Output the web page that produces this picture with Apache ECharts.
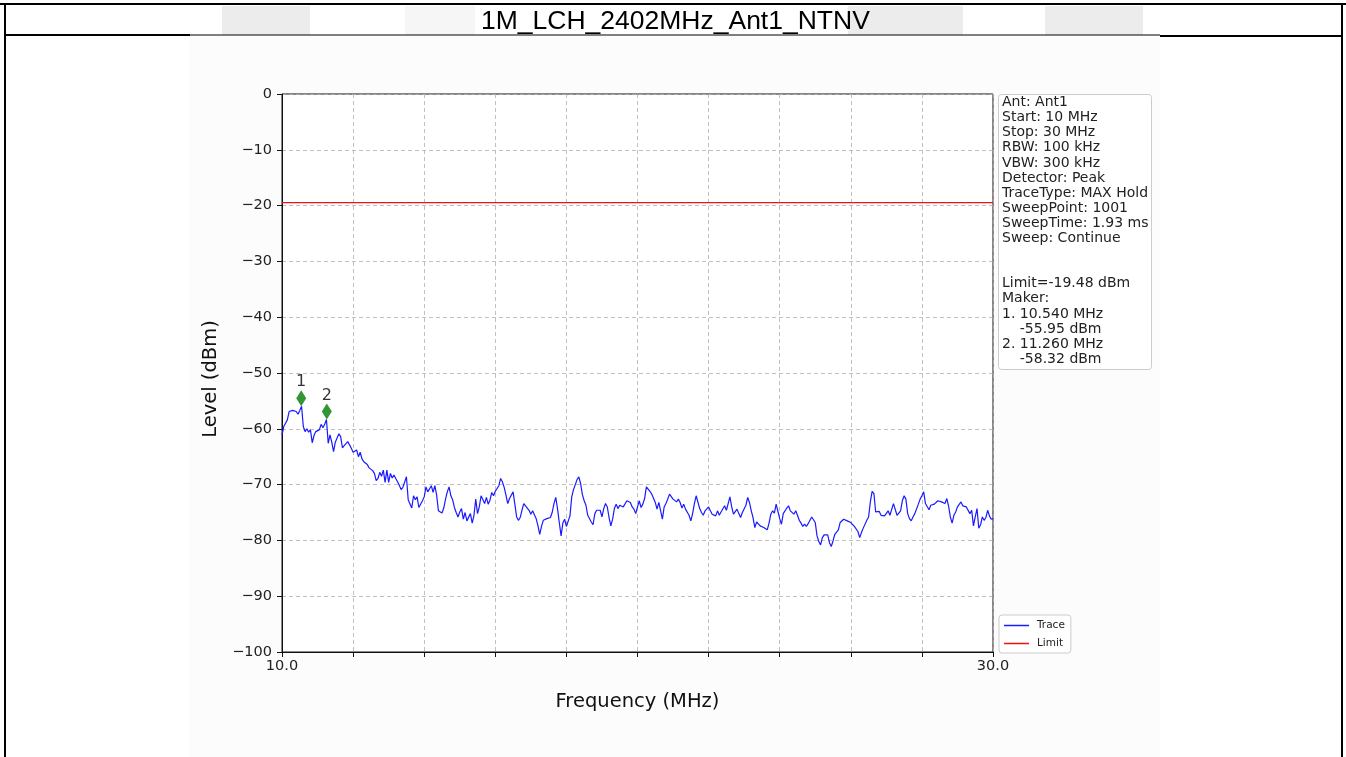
<!DOCTYPE html>
<html>
<head>
<meta charset="utf-8">
<script src="https://cdn.jsdelivr.net/npm/echarts@6/dist/echarts.min.js"></script>
<style>
  html, body { margin: 0; padding: 0; background: #ffffff; }
  #chart { width: 1346px; height: 757px; }
</style>
</head>
<body>
<div id="chart"></div>
<script>
// Sweep settings
const START_MHZ = 10;
const STOP_MHZ = 30;
const STEP_MHZ = 0.05;
const LIMIT_DBM = -19.48;

// Max-hold trace, one level per 0.05 MHz step (dBm)
const levelDbm = [
  -61.1, -59.6, -59.0, -58.4, -56.9, -56.6, -56.7, -57.0, -56.9, -57.4,
  -56.7, -55.95, -59.6, -60.5, -60.0, -60.6, -60.2, -62.5, -61.2, -60.5,
  -60.6, -60.2, -59.2, -59.8, -59.2, -58.32, -62.6, -61.1, -62.4, -64.1,
  -62.4, -62.6, -60.9, -61.4, -63.4, -63.0, -63.2, -62.3, -62.0, -63.5,
  -64.2, -64.4, -63.8, -65.0, -64.2, -65.4, -65.9, -66.1, -66.4, -67.0,
  -67.2, -67.5, -68.0, -69.3, -68.9, -67.8, -68.5, -67.4, -69.6, -67.4,
  -69.6, -68.0, -68.8, -68.3, -68.9, -69.5, -70.1, -70.9, -70.5, -70.8,
  -68.6, -72.7, -73.0, -74.2, -72.0, -72.7, -72.2, -74.1, -74.1, -72.9,
  -72.2, -70.4, -71.3, -71.1, -70.2, -71.4, -70.2, -71.9, -74.7, -74.4,
  -75.1, -74.2, -72.6, -71.3, -70.4, -72.0, -72.7, -74.1, -75.0, -75.8,
  -74.9, -74.3, -76.2, -75.0, -76.5, -76.3, -75.2, -76.9, -75.5, -72.6,
  -75.2, -74.0, -72.0, -72.3, -73.4, -72.3, -73.5, -72.8, -71.4, -72.0,
  -71.2, -71.4, -70.2, -68.9, -69.5, -70.5, -71.9, -73.4, -72.5, -72.5,
  -71.3, -73.5, -75.8, -76.4, -75.9, -74.6, -73.4, -73.8, -74.1, -74.6,
  -75.3, -74.7, -74.7, -76.1, -77.4, -78.9, -77.5, -76.4, -76.1, -76.1,
  -76.1, -75.9, -75.0, -73.4, -72.3, -74.3, -76.8, -79.2, -76.9, -76.2,
  -77.5, -77.7, -75.6, -72.2, -70.9, -70.0, -69.1, -68.6, -69.8, -71.8,
  -72.9, -73.7, -75.5, -75.8, -76.7, -77.2, -75.2, -74.6, -74.3, -74.6,
  -75.8, -74.3, -73.4, -74.0, -75.9, -77.4, -76.2, -74.3, -73.5, -74.3,
  -73.7, -73.8, -74.0, -73.7, -72.9, -72.6, -73.2, -74.0, -74.4, -75.2,
  -74.0, -72.9, -74.1, -73.5, -72.5, -70.4, -70.1, -71.2, -71.7, -72.0,
  -73.2, -74.4, -73.2, -73.1, -76.2, -74.0, -73.4, -72.6, -71.7, -71.9,
  -72.6, -72.6, -73.1, -72.6, -73.2, -74.2, -73.5, -74.4, -74.3, -75.5,
  -76.5, -75.2, -73.4, -72.0, -72.2, -74.3, -75.0, -75.5, -74.7, -74.4,
  -74.0, -74.7, -75.3, -75.2, -75.6, -74.7, -75.5, -74.9, -75.2, -73.8,
  -74.6, -73.4, -72.2, -74.0, -75.3, -75.6, -74.4, -75.2, -75.9, -75.0,
  -75.3, -73.7, -72.3, -73.2, -74.7, -75.9, -77.7, -76.7, -76.4, -77.4,
  -77.2, -77.7, -77.4, -78.1, -76.9, -75.3, -74.7, -75.1, -73.5, -73.5,
  -76.1, -77.1, -75.2, -75.0, -74.2, -73.8, -74.7, -74.4, -75.3, -74.7,
  -75.5, -76.4, -76.9, -77.5, -77.1, -77.5, -77.0, -77.2, -75.8, -76.1,
  -76.8, -79.2, -80.2, -80.8, -79.5, -79.0, -79.0, -79.0, -80.4, -81.1,
  -80.1, -78.9, -79.0, -78.1, -76.8, -77.1, -76.2, -76.5, -76.5, -76.7,
  -76.8, -77.1, -77.5, -77.4, -78.4, -79.5, -78.6, -77.8, -77.8, -76.4,
  -75.8, -73.1, -71.2, -71.6, -74.9, -74.6, -74.8, -75.5, -75.6, -75.6,
  -75.9, -74.7, -75.5, -75.3, -73.4, -73.2, -75.5, -75.5, -74.7, -72.9,
  -72.0, -72.6, -75.2, -76.1, -76.5, -75.8, -75.2, -75.3, -73.5, -72.6,
  -72.0, -71.3, -73.4, -73.7, -74.5, -73.7, -73.5, -73.5, -73.4, -72.9,
  -73.2, -73.1, -72.8, -73.4, -72.5, -73.8, -75.8, -76.9, -75.5, -74.9,
  -74.0, -73.9, -73.1, -73.8, -73.5, -74.0, -74.1, -75.2, -74.6, -77.4,
  -75.8, -74.3, -77.8, -77.2, -75.8, -76.4, -75.9, -74.6, -75.6, -76.2,
  -76.1
];

// Frequency grid of the sweep
const freqMHz = levelDbm.map((_, i) => +(START_MHZ + i * STEP_MHZ).toFixed(2));

// Peak markers
const markerNames = ['1', '2'];
const markerFreqMHz = [10.540, 11.260];
const markerLevelDbm = [-55.95, -58.32];

// Measurement settings shown beside the plot
const settingLines = [
  'Ant: Ant1',
  'Start: 10 MHz',
  'Stop: 30 MHz',
  'RBW: 100 kHz',
  'VBW: 300 kHz',
  'Detector: Peak',
  'TraceType: MAX Hold',
  'SweepPoint: 1001',
  'SweepTime: 1.93 ms',
  'Sweep: Continue'
];

const infoLines = settingLines.concat(['', '', 'Limit=' + LIMIT_DBM.toFixed(2) + ' dBm', 'Maker:']);
markerNames.forEach((n, i) => {
  infoLines.push(n + '. ' + markerFreqMHz[i].toFixed(3) + ' MHz');
  infoLines.push('    ' + markerLevelDbm[i].toFixed(2) + ' dBm');
});

const FONT = 'DejaVu Sans';
const TRACE_COLOR = '#1a1aff';
const LIMIT_COLOR = '#ee1111';
const chart = echarts.init(document.getElementById('chart'), null, { renderer: 'canvas' });

const traceData = freqMHz.map((f, i) => [f, levelDbm[i]]);
const limitData = [[START_MHZ, LIMIT_DBM], [STOP_MHZ, LIMIT_DBM]];
const markerData = markerFreqMHz.map((f, i) => ({ value: [f, markerLevelDbm[i]], name: markerNames[i] }));

const option = {
  backgroundColor: '#ffffff',
  animation: false,
  title: {
    text: '1M_LCH_2402MHz_Ant1_NTNV',
    left: 481,
    top: 8,
    padding: 0,
    textStyle: { fontFamily: 'Liberation Sans', fontSize: 26.5, fontWeight: 'normal', color: '#000' }
  },
  graphic: [
    // faint watermark blocks behind the heading
    { type: 'rect', z: -20, shape: { x: 222, y: 6, width: 88, height: 29 }, style: { fill: '#ececec' } },
    { type: 'rect', z: -20, shape: { x: 405, y: 6, width: 70, height: 29 }, style: { fill: '#f6f6f6' } },
    { type: 'rect', z: -20, shape: { x: 848, y: 6, width: 115, height: 29 }, style: { fill: '#ececec' } },
    { type: 'rect', z: -20, shape: { x: 1045, y: 6, width: 98, height: 29 }, style: { fill: '#ececec' } },
    // plot image backdrop
    { type: 'rect', z: -20, shape: { x: 190, y: 36, width: 970, height: 721 }, style: { fill: '#fcfcfc' } },
    // table borders
    { type: 'line', z: 50, shape: { x1: 0, y1: 4, x2: 1346, y2: 4 }, style: { stroke: '#000', lineWidth: 2 } },
    { type: 'line', z: 50, shape: { x1: 5, y1: 4, x2: 5, y2: 757 }, style: { stroke: '#000', lineWidth: 2 } },
    { type: 'line', z: 50, shape: { x1: 1342, y1: 4, x2: 1342, y2: 757 }, style: { stroke: '#000', lineWidth: 2 } },
    { type: 'line', z: 50, shape: { x1: 5, y1: 35, x2: 190, y2: 35 }, style: { stroke: '#000', lineWidth: 2 } },
    { type: 'line', z: 50, shape: { x1: 190, y1: 35, x2: 1160, y2: 35 }, style: { stroke: '#000', lineWidth: 1 } },
    { type: 'line', z: 50, shape: { x1: 1160, y1: 36, x2: 1342, y2: 36 }, style: { stroke: '#000', lineWidth: 2 } },
    // settings panel
    {
      type: 'group', z: 40,
      children: [
        { type: 'rect', shape: { x: 998.5, y: 94.5, width: 153, height: 275, r: 3 },
          style: { fill: '#ffffff', stroke: '#cccccc', lineWidth: 1 } },
        { type: 'text', x: 1002, y: 95,
          style: { text: infoLines.join('\n'), font: '14px "' + FONT + '"', fill: '#222', lineHeight: 15.1 } }
      ]
    }
  ],
  legend: {
    data: [{ name: 'Trace', icon: 'rect' }, { name: 'Limit', icon: 'rect' }],
    orient: 'vertical',
    left: 999,
    top: 615,
    itemGap: 7,
    itemWidth: 25,
    itemHeight: 1.5,
    padding: [5, 6, 4, 5],
    backgroundColor: '#ffffff',
    borderColor: '#cccccc',
    borderWidth: 1,
    borderRadius: 3,
    textStyle: { fontFamily: FONT, fontSize: 10.5, color: '#222', padding: [0, 0, 0, 3] }
  },
  grid: {
    left: 282, top: 94, width: 711, height: 558,
    show: true, backgroundColor: '#ffffff', borderColor: '#111', borderWidth: 1
  },
  xAxis: {
    type: 'value',
    min: START_MHZ, max: STOP_MHZ, interval: 2,
    name: 'Frequency (MHz)',
    nameLocation: 'middle',
    nameGap: 40,
    nameTextStyle: { fontFamily: FONT, fontSize: 19.5, color: '#111' },
    axisLine: { show: true, onZero: false, lineStyle: { color: '#111', width: 1 } },
    axisTick: { show: true, length: 5, lineStyle: { color: '#111' } },
    axisLabel: {
      fontFamily: FONT, fontSize: 14.5, color: '#222', margin: 7,
      formatter: v => (v === START_MHZ || v === STOP_MHZ) ? v.toFixed(1) : ''
    },
    splitLine: { show: true, lineStyle: { color: '#b0b0b0', type: [4, 3], width: 0.8 } }
  },
  yAxis: {
    type: 'value',
    min: -100, max: 0, interval: 10,
    name: 'Level (dBm)',
    nameLocation: 'middle',
    nameGap: 60,
    nameTextStyle: { fontFamily: FONT, fontSize: 19.5, color: '#111', padding: [0, 12, 0, 0] },
    axisLine: { show: true, onZero: false, lineStyle: { color: '#111', width: 1 } },
    axisTick: { show: true, length: 5, lineStyle: { color: '#111' } },
    axisLabel: {
      fontFamily: FONT, fontSize: 14.5, color: '#222', margin: 10,
      formatter: v => String(v).replace('-', '\u2212')
    },
    splitLine: { show: true, lineStyle: { color: '#b0b0b0', type: [4, 3], width: 0.8 } }
  },
  series: [
    {
      name: 'Trace', type: 'line', data: traceData,
      symbol: 'none', clip: true,
      lineStyle: { color: TRACE_COLOR, width: 1.2 },
      itemStyle: { color: TRACE_COLOR },
      z: 3
    },
    {
      name: 'Limit', type: 'line', data: limitData,
      symbol: 'none',
      lineStyle: { color: LIMIT_COLOR, width: 1.2 },
      itemStyle: { color: LIMIT_COLOR },
      z: 3
    },
    {
      name: 'Markers', type: 'scatter', data: markerData,
      symbol: 'diamond', symbolSize: [10, 16], symbolOffset: [0, -8],
      itemStyle: { color: '#007a00' },
      label: {
        show: true, position: 'top', distance: 0,
        formatter: p => p.name,
        fontFamily: FONT, fontSize: 16, color: '#000'
      },
      z: 5
    }
  ]
};

chart.setOption(option);
</script>
</body>
</html>
